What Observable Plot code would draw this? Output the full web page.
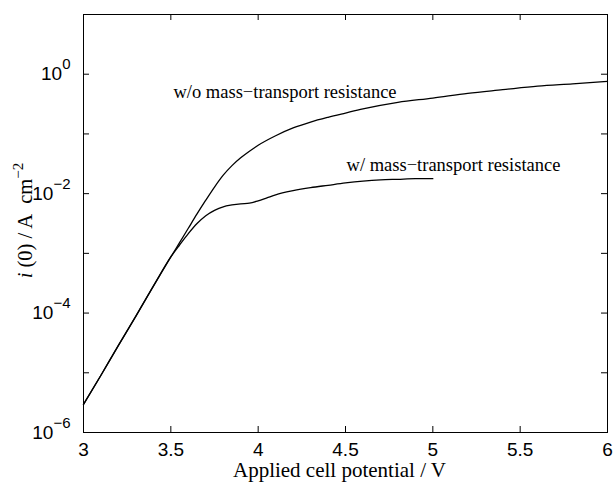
<!DOCTYPE html>
<html><head><meta charset="utf-8">
<script src="https://cdn.jsdelivr.net/npm/d3@7"></script>
<script src="https://cdn.jsdelivr.net/npm/@observablehq/plot@0.6"></script>
<style>body{margin:0;background:#fff}</style>
</head><body><div id="chart"></div>
<script>
// Applied cell potential (V) and current density i(0) (A cm^-2)
const potentialNoMT = [3.0, 3.1, 3.2, 3.3, 3.4, 3.5, 3.55, 3.6, 3.65, 3.7, 3.75, 3.8, 3.85, 3.9, 3.95, 4.0, 4.1, 4.2, 4.3, 4.4, 4.5, 4.6, 4.8, 5.0, 5.2, 5.4, 5.6, 5.8, 6.0];
const currentNoMT = [2.95e-6, 9.1e-6, 2.88e-5, 8.9e-5, 2.82e-4, 8.71e-4, 1.51e-3, 2.63e-3, 4.57e-3, 7.76e-3, 1.29e-2, 2.04e-2, 2.95e-2, 3.98e-2, 5.13e-2, 6.46e-2, 9.33e-2, 0.126, 0.158, 0.19, 0.224, 0.263, 0.339, 0.398, 0.479, 0.55, 0.63, 0.69, 0.76];
const potentialMT = [3.0, 3.1, 3.2, 3.3, 3.4, 3.5, 3.55, 3.6, 3.65, 3.7, 3.75, 3.8, 3.85, 3.9, 3.95, 4.0, 4.05, 4.1, 4.2, 4.3, 4.4, 4.5, 4.6, 4.7, 4.8, 4.9, 5.0];
const currentMT = [2.95e-6, 9.1e-6, 2.88e-5, 8.9e-5, 2.82e-4, 8.71e-4, 1.38e-3, 2.14e-3, 3.16e-3, 4.27e-3, 5.25e-3, 6.03e-3, 6.46e-3, 6.76e-3, 6.92e-3, 7.59e-3, 8.51e-3, 9.55e-3, 1.12e-2, 1.26e-2, 1.38e-2, 1.51e-2, 1.62e-2, 1.70e-2, 1.74e-2, 1.78e-2, 1.78e-2];

const xTicks = [3, 3.5, 4, 4.5, 5, 5.5, 6];
const yTicks = [1e-6, 1e-5, 1e-4, 1e-3, 1e-2, 1e-1, 1, 10];
const yLabelTicks = [1e-6, 1e-4, 1e-2, 1];

const seriesLabels = ["w/o mass\u2212transport resistance", "w/ mass\u2212transport resistance"];
const labelX = [3.515, 4.506];
const labelY = [0.51, 0.030];

const xTitle = "Applied cell potential / V";
const yTitle = "i (0) / A cm";

const rowsNoMT = potentialNoMT.map((x, k) => ({x, y: currentNoMT[k]}));
const rowsMT = potentialMT.map((x, k) => ({x, y: currentMT[k]}));
const labels = seriesLabels.map((t, k) => ({t, x: labelX[k], y: labelY[k]}));

const W = 615, H = 484, mL = 83, mR = 8, mT = 14, mB = 52;
const fw = W - mL - mR, fh = H - mT - mB, tl = 6;
const serif = "'Liberation Serif', 'Times New Roman', serif";

const chart = Plot.plot({
  width: W, height: H,
  marginLeft: mL, marginRight: mR, marginTop: mT, marginBottom: mB,
  style: {background: "white", color: "black", fontFamily: "'Liberation Sans', Arial, sans-serif"},
  x: {domain: [3, 6]},
  y: {type: "log", domain: [1e-6, 10]},
  marks: [
    Plot.axisX({ticks: xTicks, tickSize: 0, tickPadding: 10, fontSize: 19, label: null, tickFormat: d => String(d)}),
    Plot.axisY({ticks: yLabelTicks, tickSize: 0, tickPadding: 13, fontSize: 19, label: null, tickFormat: d => "10^" + Math.round(Math.log10(d))}),
    Plot.tickX(xTicks, {x: d => d, insetTop: fh - tl, stroke: "black"}),
    Plot.tickX(xTicks, {x: d => d, insetBottom: fh - tl, stroke: "black"}),
    Plot.tickY(yTicks, {y: d => d, insetRight: fw - tl, stroke: "black"}),
    Plot.tickY(yTicks, {y: d => d, insetLeft: fw - tl, stroke: "black"}),
    Plot.frame({stroke: "black", strokeWidth: 1}),
    Plot.line(rowsNoMT, {x: "x", y: "y", stroke: "black", strokeWidth: 1.3, curve: "monotone-x"}),
    Plot.line(rowsMT, {x: "x", y: "y", stroke: "black", strokeWidth: 1.3, curve: "monotone-x"}),
    Plot.text(labels, {x: "x", y: "y", text: "t", textAnchor: "start", lineAnchor: "middle", fontSize: 18.5, fontFamily: serif, fill: "black"}),
    Plot.text([xTitle], {frameAnchor: "bottom", dx: -6, dy: 38, lineAnchor: "middle", fontSize: 21, fontFamily: serif, fill: "black"}),
    Plot.text([yTitle], {x: () => 3, y: () => Math.pow(10, -2.45), dx: -58, rotate: -90, textAnchor: "middle", lineAnchor: "middle", fontSize: 20.5, fontFamily: serif, fill: "black"})
  ]
});
document.getElementById("chart").appendChild(chart);

// superscripts on y tick labels and y title
d3.select(chart).selectAll("text").each(function() {
  const el = d3.select(this);
  const s = this.textContent;
  const m = /^10\^(-?\d+)$/.exec(s);
  if (m) {
    el.text(null);
    el.append("tspan").text("10");
    el.append("tspan").attr("dy", -11).attr("font-size", 15).text(m[1].replace("-", "\u2212"));
  } else if (s === yTitle) {
    el.text(null);
    el.append("tspan").attr("font-style", "italic").text("i");
    el.append("tspan").text(" (0) / A\u00a0 cm");
    el.append("tspan").attr("dy", -9).attr("font-size", 15).text("\u22122");
  }
});
</script>
</body></html>
